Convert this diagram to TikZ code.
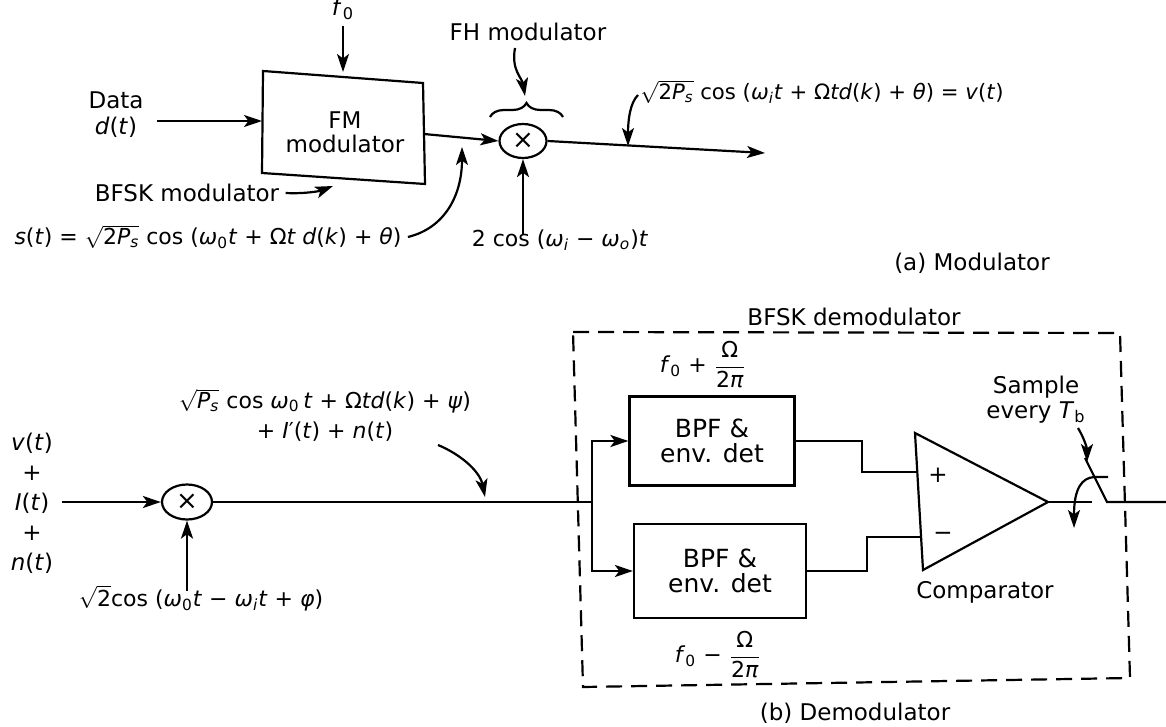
\documentclass[tikz,border=0pt]{standalone}
\usepackage{fontspec}
\setmainfont{DejaVu Sans}
\usetikzlibrary{arrows.meta,shapes.geometric,decorations.pathreplacing}
\newcommand{\mysqrt}[1]{$\sqrt{\hbox{#1}}$}
\newcommand{\myfrac}[2]{${\displaystyle\frac{\hbox{#1}}{\hbox{#2}}}$}
\newcommand{\vv}[1]{\textit{#1}}
\begin{document}
\begin{tikzpicture}[x=0.5pt,y=-0.5pt,
  lbl/.style={font=\fontsize{11.5}{12}\selectfont, inner sep=0pt},
  eq/.style={font=\fontsize{11}{13}\selectfont, inner sep=0pt},
  ln/.style={line width=1.1pt},
  arr/.style={line width=1.1pt, -{Stealth[length=9pt,width=6pt,inset=2.2pt]}},
  mix/.style={draw, ellipse, line width=1.1pt, minimum width=23.5pt, minimum height=17pt, inner sep=0pt, font=\fontsize{13}{13}\selectfont},
  blk/.style={draw, line width=1.1pt, align=center, font=\fontsize{12.5}{12.5}\selectfont}
]
\useasboundingbox (0,0) rectangle (1166,727);

% ---------------- (a) Modulator ----------------
\node[lbl] (f0) at (343,9) {\vv{f}\textsubscript{0}};
\coordinate (fmTL) at (263,71);
\coordinate (fmTR) at (423,83);
\coordinate (fmBR) at (425,184);
\coordinate (fmBL) at (262,173);
\draw[ln] (fmTL) -- (fmTR) -- (fmBR) -- (fmBL) -- cycle;
\node[lbl, align=center] (fm) at (345,132) {FM\\modulator};
\coordinate (fmTop) at (343,72);
\draw[arr] ([yshift=-3pt]f0.south) -- (fmTop);

\node[lbl, align=center, font=\fontsize{11.5}{13}\selectfont] (data) at (116,115) {Data\\\vv{d}(\vv{t})};
\coordinate (dataS) at (157,121);
\coordinate (fmIn) at (262,121);
\draw[arr] (dataS) -- (fmIn);

\node[lbl] (bfskm) at (187,193) {BFSK modulator};
\coordinate (fmBot) at (333,186);
\draw[arr] ([xshift=3pt]bfskm.east) .. controls (305,194) and (320,191) .. (fmBot);

\node[eq] (st) at (208,237) {\vv{s}(\vv{t}) = \mysqrt{2\vv{P}\textsubscript{\vv{s}}} cos (\vv{ω}\textsubscript{0}\vv{t} + Ω\vv{t d}(\vv{k}) + \vv{θ})};
\coordinate (hit1) at (462,147);
\draw[arr] ([xshift=3pt]st.east) .. controls (445,228) and (462,195) .. (hit1);

\node[mix] (mx1) at (523,141) {×};
\coordinate (fmOut) at (424,134);
\draw[arr] (fmOut) -- (mx1.west);
\coordinate (out1) at (765,153);
\draw[arr] (mx1.east) -- (out1);

\node[lbl] (fh) at (528,32) {FH modulator};
\coordinate (fhS) at (515,48);
\coordinate (brTip) at (525,96);
\draw[arr] (fhS) .. controls (511,70) and (522,78) .. (brTip);
\draw[ln, decorate, decoration={brace, amplitude=7pt}] (490,117) -- (563,117);

\node[eq, font=\fontsize{10.6}{13}\selectfont] (vt) at (822,92) {\mysqrt{2\vv{P}\textsubscript{\vv{s}}} cos (\vv{ω}\textsubscript{\vv{i}}\vv{t} + Ω\vv{td}(\vv{k}) + \vv{θ}) = \vv{v}(\vv{t})};
\coordinate (vtS) at (638,95);
\coordinate (hit2) at (628,146);
\draw[arr] (vtS) .. controls (630,103) and (628,120) .. (hit2);

\node[eq] (lo1) at (560,240) {2 cos (\vv{ω}\textsubscript{\vv{i}} − \vv{ω}\textsubscript{\vv{o}})\vv{t}};
\draw[arr] ([yshift=-3pt]lo1.north -| mx1.south) -- (mx1.south);

\node[lbl] (capA) at (972,263) {(a) Modulator};

% ---------------- (b) Demodulator ----------------
\node[eq, align=center, font=\fontsize{11.5}{15}\selectfont] (inp) at (32,503) {\vv{v}(\vv{t})\\+\\\vv{I}(\vv{t})\\+\\\vv{n}(\vv{t})};
\coordinate (inS) at (62,502);
\node[mix, minimum width=25pt, minimum height=17.5pt] (mx2) at (187,502) {×};
\draw[arr] (inS) -- (mx2.west);
\node[eq] (lo2) at (201,598) {\mysqrt{2}cos (\vv{ω}\textsubscript{0}\vv{t} − \vv{ω}\textsubscript{\vv{i}}\vv{t} + \vv{φ})};
\draw[arr] ([yshift=-3pt]lo2.north -| mx2.south) -- (mx2.south);
\coordinate (sp) at (592,502);
\draw[ln] (mx2.east) -- (sp);

\node[eq, align=center, font=\fontsize{11}{15}\selectfont] (rx) at (325,415) {\mysqrt{\vv{P}\textsubscript{\vv{s}}} cos \vv{ω}\textsubscript{0}\,\vv{t} + Ω\vv{td}(\vv{k}) + \vv{ψ})\\+ \vv{I}′(\vv{t}) + \vv{n}(\vv{t})};
\coordinate (rxS) at (438,445);
\coordinate (hit3) at (485,497);
\draw[arr] (rxS) .. controls (462,455) and (480,472) .. (hit3);

\draw[ln, dash pattern=on 8pt off 4.5pt] (573,332) -- (1120,333) -- (1130,678) -- (583,687) -- cycle;
\node[lbl] (bfskd) at (854,317) {BFSK demodulator};

\node[blk, minimum width=82.5pt, minimum height=44.5pt] (bpf1) at (712,441) {BPF \&\\env. det};
\node[blk, minimum width=86pt, minimum height=47pt] (bpf2) at (720,571) {BPF \&\\env. det};
\draw[arr] (sp) |- (bpf1.west);
\draw[arr] (sp) |- (bpf2.west);

\node[eq] (fplus) at (703,365) {\vv{f}\textsubscript{0} + \myfrac{Ω}{2\vv{π}}};
\node[eq] (fminus) at (718,655) {\vv{f}\textsubscript{0} − \myfrac{Ω}{2\vv{π}}};

\coordinate (cA) at (915,433);
\coordinate (cB) at (923,570);
\coordinate (cC) at (1048,502);
\draw[ln] (cA) -- (cB) -- (cC) -- cycle;
\coordinate (cP) at (917,472);
\coordinate (cM) at (921,537);
\coordinate (k1a) at (862,441);
\coordinate (k1b) at (862,472);
\coordinate (k2a) at (867,571);
\coordinate (k2b) at (867,537);
\draw[ln] (bpf1.east) -- (k1a) -- (k1b) -- (cP);
\draw[ln] (bpf2.east) -- (k2a) -- (k2b) -- (cM);
\node[lbl] (plus) at (938,475) {+};
\node[lbl] (minus) at (943,536) {−};
\node[lbl] (cmp) at (985,592) {Comparator};

\coordinate (sw1) at (1092,502);
\draw[ln] (cC) -- (sw1);
\coordinate (lvTop) at (1085,458);
\coordinate (lvBot) at (1107,502);
\coordinate (outEnd) at (1166,502);
\draw[ln] (lvTop) -- (lvBot) -- (outEnd);
\node[lbl, align=center, font=\fontsize{11.5}{12.5}\selectfont] (samp) at (1036,400) {Sample\\every \vv{T}\textsubscript{b}};
\coordinate (sampS) at (1078,428);
\coordinate (sampT) at (1087,462);
\draw[arr] (sampS) .. controls (1084,438) and (1087,448) .. (sampT);
\coordinate (arcA) at (1108,477);
\coordinate (arcB) at (1094,477);
\coordinate (arcT) at (1074,528);
\draw[arr] (arcA) -- (arcB) .. controls (1082,478) and (1074,488) .. (arcT);

\node[lbl] (capB) at (855,713) {(b) Demodulator};
\end{tikzpicture}
\end{document}
